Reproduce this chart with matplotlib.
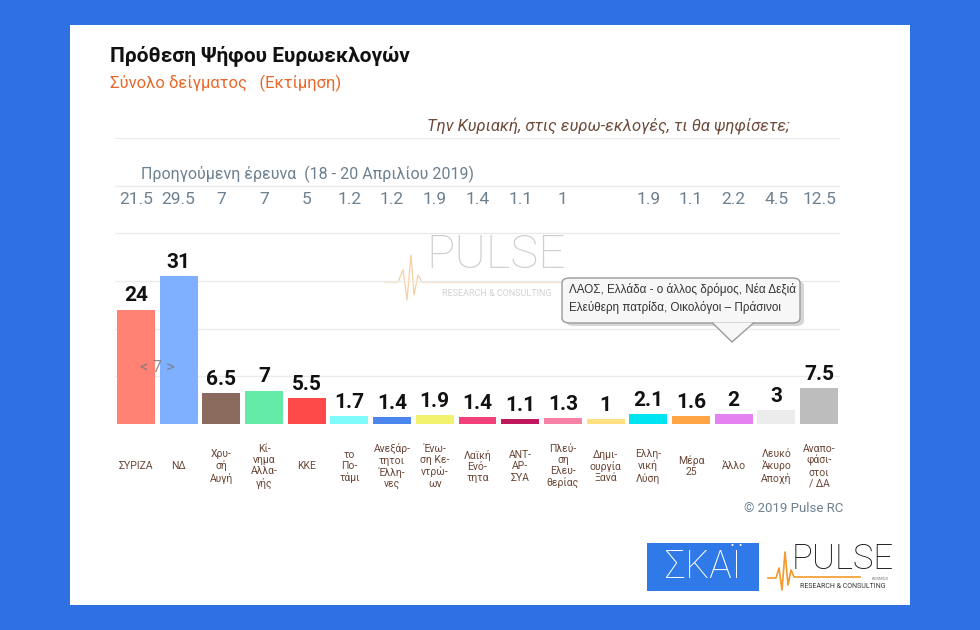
import matplotlib
matplotlib.use("Agg")
import matplotlib.pyplot as plt
from matplotlib.patches import FancyBboxPatch, Polygon, Rectangle

plt.rcParams['font.family'] = ['Roboto', 'DejaVu Sans']

# data
parties = ["ΣΥΡΙΖΑ", "ΝΔ", "Χρυ-\nσή\nΑυγή", "Κί-\nνημα\nΑλλα-\nγής", "ΚΚΕ",
           "το\nΠο-\nτάμι", "Ανεξάρ-\nτητοι\nΈλλη-\nνες", "Ένω-\nση Κε-\nντρώ-\nων",
           "Λαϊκή\nΕνό-\nτητα", "ΑΝΤ-\nΑΡ-\nΣΥΑ", "Πλεύ-\nση\nΕλευ-\nθερίας",
           "Δημι-\nουργία\nΞανά", "Ελλη-\nνική\nΛύση", "Μέρα\n25", "Άλλο",
           "Λευκό\nΆκυρο\nΑποχή", "Αναπο-\nφάσι-\nστοι\n/ ΔΑ"]
current = [24, 31, 6.5, 7, 5.5, 1.7, 1.4, 1.9, 1.4, 1.1, 1.3, 1, 2.1, 1.6, 2, 3, 7.5]
previous = ["21.5", "29.5", "7", "7", "5", "1.2", "1.2", "1.9", "1.4", "1.1", "1",
            "", "1.9", "1.1", "2.2", "4.5", "12.5"]
bar_colors = ["#ff8275", "#7fb0ff", "#8a6a5c", "#62eaa6", "#ff4a4a", "#80fbfb",
              "#4a86ee", "#f2f26e", "#f2407a", "#c0185c", "#f582a6", "#ffe080",
              "#00e4f2", "#ffa546", "#e482f2", "#ececec", "#bdbdbd"]

W, H = 980, 630


def px(x, y):
    return x / W, 1 - y / H


fig = plt.figure(figsize=(9.8, 6.3), dpi=100)
fig.patch.set_facecolor("#2f70e4")

# white panel
fig.patches.append(Rectangle(px(70, 605), 840 / W, 580 / H, transform=fig.transFigure,
                             facecolor="white", edgecolor="none", zorder=0))

# watermark logo
fig.text(*px(496, 255), "PULSE", fontsize=34, color="#cfcfcf", ha="center", va="center",
         fontweight="light", zorder=1)
fig.text(*px(497, 293), "RESEARCH & CONSULTING", fontsize=6.5, color="#d2d2d2",
         ha="center", va="center", zorder=1)
hb_x = [385, 398, 403, 407, 411, 414, 418, 422, 570]
hb_y = [282, 282, 270, 300, 255, 295, 275, 282, 282]
fig.add_artist(plt.Line2D([px(a, 0)[0] for a in hb_x], [px(0, b)[1] for b in hb_y],
                          color="#f5c48a", lw=0.9, alpha=0.8, zorder=1))

ax = fig.add_axes([114.6 / W, 1 - 424 / H, 725.8 / W, 286 / H])
ax.set_zorder(2)
ax.set_facecolor("none")
x = list(range(len(current)))
ax.bar(x, current, width=0.89, color=bar_colors, zorder=3)
ax.set_xlim(-0.5, len(current) - 0.5)
ax.set_ylim(0, 60)
ax.set_yticks(range(0, 61, 10))
ax.yaxis.grid(True, color="#ebebeb", lw=1)
ax.set_axisbelow(True)
ax.tick_params(left=False, bottom=False, labelleft=False, labelbottom=False)
for s in ax.spines.values():
    s.set_visible(False)

for i, v in enumerate(current):
    ax.annotate(f"{v:g}", (i, v), xytext=(0, 3), textcoords="offset points",
                ha="center", va="bottom", fontsize=15, fontweight="bold", color="#111111")
    ax.annotate(parties[i], (i, 0), xytext=(0, -30.5), textcoords="offset points",
                ha="center", va="center", fontsize=7.5, color="#6a4636", linespacing=1.15,
                annotation_clip=False)

# previous survey row
for i, p in enumerate(previous):
    ax.text(i, 47, p, ha="center", va="center", fontsize=12.5, color="#6c8090")

fig.text(*px(141, 174), "Προηγούμενη έρευνα  (18 - 20 Απριλίου 2019)", fontsize=11.5,
         color="#6c8090", va="center")

# titles
fig.text(*px(110, 56), "Πρόθεση Ψήφου Ευρωεκλογών", fontsize=15, fontweight="bold",
         color="#111111", va="center")
fig.text(*px(110, 83), "Σύνολο δείγματος   (Εκτίμηση)", fontsize=12, color="#e8682a",
         va="center")
fig.text(*px(790, 127), "Την Κυριακή, στις ευρω-εκλογές, τι θα ψηφίσετε;", fontsize=12,
         style="italic", color="#6e4c3c", va="center", ha="right")

fig.text(*px(157, 368), "< 7 >", fontsize=12, color="#777777", alpha=0.8,
         ha="center", va="center", zorder=5)

# tooltip
shadow = FancyBboxPatch(px(566, 326), 238 / W, 45 / H, boxstyle="round,pad=0,rounding_size=0.008",
                        transform=fig.transFigure, facecolor="#bbbbbb", edgecolor="none",
                        alpha=0.6, zorder=6)
box = FancyBboxPatch(px(562, 323), 238 / W, 45 / H, boxstyle="round,pad=0,rounding_size=0.008",
                     transform=fig.transFigure, facecolor="#f7f7f7", edgecolor="#9a9a9a",
                     lw=1, zorder=7)
fig.patches.extend([shadow, box])
arrow = Polygon([px(712, 322.5), px(732, 342), px(754, 322.5)], closed=False,
                transform=fig.transFigure, facecolor="#f7f7f7", edgecolor="#9a9a9a",
                lw=1, zorder=8)
fig.patches.append(arrow)
fig.text(*px(569, 290), "ΛΑΟΣ, Ελλάδα - ο άλλος δρόμος, Νέα Δεξιά",
         family=["Liberation Sans", "DejaVu Sans"], fontsize=8.4, color="#333333",
         va="center", zorder=9)
fig.text(*px(569, 307), "Ελεύθερη πατρίδα, Οικολόγοι – Πράσινοι",
         family=["Liberation Sans", "DejaVu Sans"], fontsize=8.4, color="#333333",
         va="center", zorder=9)

fig.text(*px(843, 508), "© 2019 Pulse RC", fontsize=9.5, color="#6c8090",
         ha="right", va="center")

# bottom logos
fig.patches.append(Rectangle(px(647, 591), 112 / W, 48 / H, transform=fig.transFigure,
                             facecolor="#2f7ae8", edgecolor="none", zorder=2))
fig.text(*px(703, 567), "ΣΚΑΪ", fontsize=27, color="white", ha="center", va="center",
         fontweight="light", zorder=3)
fig.text(*px(843, 559), "PULSE", fontsize=25, color="#1a1a1a", ha="center", va="center",
         fontweight="light", zorder=3)
fig.text(*px(843, 586), "RESEARCH & CONSULTING", fontsize=5, color="#333333",
         ha="center", va="center", zorder=3)
fig.text(*px(880, 579), "KOSMOS", fontsize=3, color="#777777", ha="center",
         va="center", zorder=3)
lx = [768, 776, 779, 782, 785, 788, 791, 794, 860]
ly = [578, 578, 568, 590, 552, 585, 570, 577, 577]
fig.add_artist(plt.Line2D([px(a, 0)[0] for a in lx], [px(0, b)[1] for b in ly],
                          color="#f39a2a", lw=1.2, zorder=3))

fig.savefig("out.png", dpi=100, facecolor=fig.get_facecolor())
